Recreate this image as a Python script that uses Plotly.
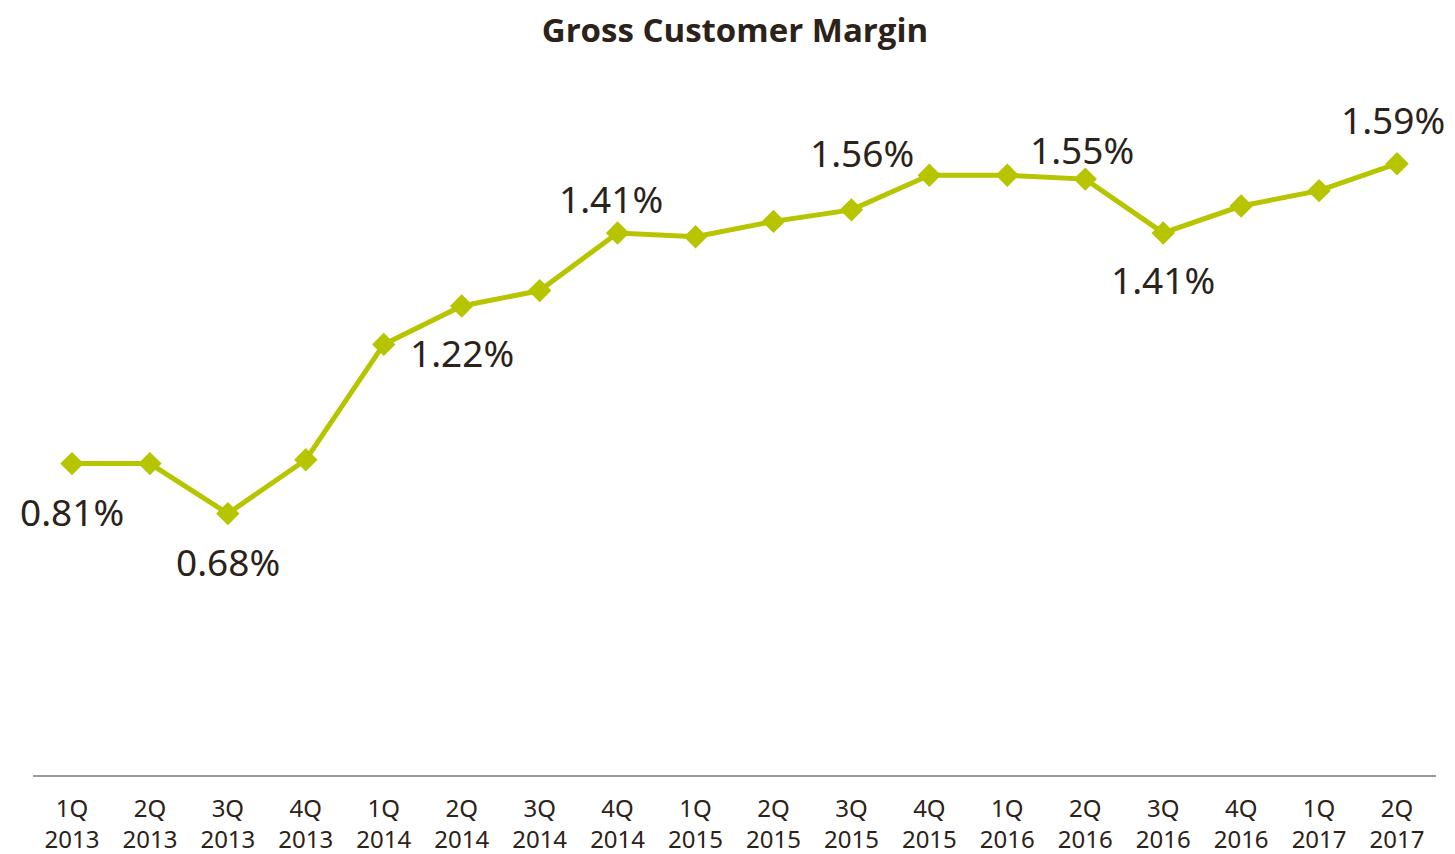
import plotly.graph_objects as go

quarters = ["1Q<br>2013", "2Q<br>2013", "3Q<br>2013", "4Q<br>2013",
            "1Q<br>2014", "2Q<br>2014", "3Q<br>2014", "4Q<br>2014",
            "1Q<br>2015", "2Q<br>2015", "3Q<br>2015", "4Q<br>2015",
            "1Q<br>2016", "2Q<br>2016", "3Q<br>2016", "4Q<br>2016",
            "1Q<br>2017", "2Q<br>2017"]
margin_pct = [0.81, 0.81, 0.68, 0.82, 1.12, 1.22, 1.26, 1.41, 1.40, 1.44,
              1.47, 1.56, 1.56, 1.55, 1.41, 1.48, 1.52, 1.59]

# which points carry a value label, and label offsets (px)
label_idx = [0, 2, 5, 7, 11, 13, 14, 17]
label_xshift = [0, 0, 0, -7, -67, -3, 0, -4]
label_yshift = [-48, -48, -47, 34, 23, 30, -47, 44]

LINE = "#b7c400"
TEXT = "#2b2219"

fig = go.Figure()
fig.add_trace(go.Scatter(
    x=quarters, y=margin_pct, mode="lines+markers",
    line=dict(color=LINE, width=5),
    marker=dict(symbol="diamond", size=18, color=LINE),
    hoverinfo="skip",
))

for i, dx, dy in zip(label_idx, label_xshift, label_yshift):
    fig.add_annotation(
        x=quarters[i], y=margin_pct[i], text=f"{margin_pct[i]:.2f}%",
        showarrow=False, xshift=dx, yshift=dy,
        font=dict(family="Noto Sans", size=37, color=TEXT),
    )

fig.update_layout(
    width=1447, height=846,
    paper_bgcolor="white", plot_bgcolor="white",
    margin=dict(l=25, r=19, t=75, b=79, autoexpand=False),
    showlegend=False,
    title=dict(text="<b>Gross Customer Margin</b>", x=0.5024, xanchor="center",
               y=0.973, yanchor="middle",
               font=dict(family="Open Sans", size=33, color=TEXT)),
    xaxis=dict(type="category", range=[-0.5, 17.5], showgrid=False,
               showline=True, linecolor="#9a9a9a", linewidth=2,
               ticks="", ticklabelstandoff=11, automargin=False,
               tickfont=dict(family="Noto Sans", size=24, color=TEXT),
               fixedrange=True),
    yaxis=dict(range=[0, 1.8], visible=False, showgrid=False, zeroline=False,
               automargin=False, fixedrange=True),
)

fig.write_html("out.html")
